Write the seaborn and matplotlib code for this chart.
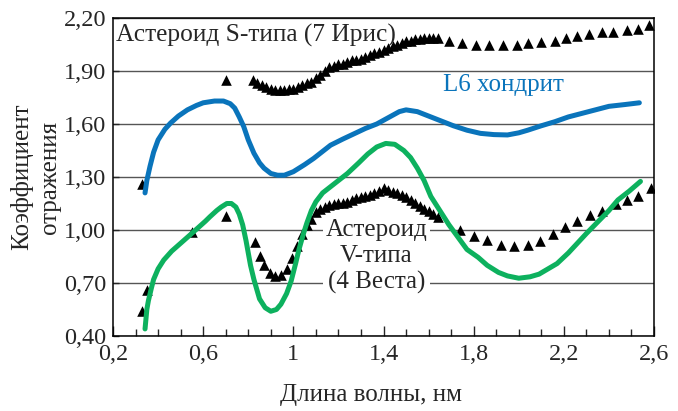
import numpy as np
import pandas as pd
import matplotlib
matplotlib.use("Agg")
import matplotlib.pyplot as plt
import seaborn as sns

# Астероид S-типа (7 Ирис) - треугольники
s_x = [0.33, 0.70, 0.82, 0.84, 0.86, 0.88, 0.90, 0.92, 0.94, 0.96, 0.98, 1.00, 1.02, 1.04,
       1.06, 1.08, 1.10, 1.12, 1.14, 1.16, 1.18, 1.20, 1.22, 1.24, 1.26, 1.28, 1.30, 1.32,
       1.34, 1.36, 1.38, 1.40, 1.42, 1.44, 1.46, 1.48, 1.50, 1.52, 1.54, 1.56, 1.58, 1.60,
       1.62, 1.64, 1.69, 1.75, 1.81, 1.87, 1.93, 1.99, 2.04, 2.10, 2.16, 2.21, 2.26, 2.31,
       2.37, 2.42, 2.48, 2.53, 2.58]
s_y = [1.26, 1.85, 1.85, 1.83, 1.82, 1.81, 1.80, 1.79, 1.79, 1.79, 1.80, 1.80, 1.81, 1.82,
       1.83, 1.84, 1.86, 1.88, 1.90, 1.92, 1.93, 1.94, 1.94, 1.95, 1.96, 1.96, 1.97, 1.98,
       1.99, 2.00, 2.01, 2.02, 2.03, 2.04, 2.05, 2.06, 2.07, 2.07, 2.08, 2.08, 2.085, 2.085,
       2.085, 2.085, 2.07, 2.06, 2.045, 2.045, 2.045, 2.045, 2.06, 2.065, 2.07, 2.085, 2.10, 2.11,
       2.12, 2.12, 2.13, 2.135, 2.16]

# Астероид V-типа (4 Веста) - треугольники
v_x = [0.33, 0.35, 0.55, 0.70, 0.83, 0.85, 0.87, 0.895, 0.92, 0.945, 0.97, 0.995, 1.015,
       1.04, 1.06, 1.08, 1.10, 1.12, 1.14, 1.16, 1.18, 1.20, 1.22, 1.24, 1.26, 1.28, 1.30,
       1.32, 1.34, 1.36, 1.38, 1.40, 1.42, 1.44, 1.46, 1.48, 1.50, 1.52, 1.54, 1.56, 1.58,
       1.60, 1.62, 1.64, 1.74, 1.80, 1.86, 1.92, 1.98, 2.04, 2.095, 2.15, 2.205, 2.26, 2.315,
       2.37, 2.43, 2.48, 2.53, 2.585]
v_y = [0.54, 0.66, 0.99, 1.08, 0.93, 0.85, 0.80, 0.755, 0.74, 0.745, 0.78, 0.84, 0.91,
       0.98, 1.03, 1.065, 1.10, 1.12, 1.13, 1.14, 1.145, 1.15, 1.155, 1.16, 1.17, 1.18, 1.185,
       1.19, 1.20, 1.21, 1.22, 1.235, 1.225, 1.215, 1.21, 1.20, 1.185, 1.17, 1.155, 1.135, 1.12,
       1.105, 1.09, 1.075, 1.00, 0.965, 0.945, 0.915, 0.91, 0.915, 0.94, 0.975, 1.015, 1.05, 1.085,
       1.11, 1.145, 1.17, 1.19, 1.24]

# L6 хондрит
l6_x = [0.342, 0.35, 0.364, 0.38, 0.40, 0.43, 0.455, 0.49, 0.53, 0.57, 0.60, 0.65, 0.69,
        0.72, 0.74, 0.76, 0.78, 0.80, 0.825, 0.85, 0.87, 0.90, 0.93, 0.96, 1.00, 1.05, 1.09,
        1.13, 1.165, 1.22, 1.27, 1.32, 1.37, 1.42, 1.47, 1.50, 1.55, 1.61, 1.66, 1.71, 1.77,
        1.83, 1.89, 1.95, 2.00, 2.04, 2.10, 2.16, 2.22, 2.28, 2.34, 2.40, 2.47, 2.535]
l6_y = [1.21, 1.28, 1.36, 1.44, 1.51, 1.57, 1.605, 1.645, 1.68, 1.705, 1.72, 1.73, 1.73,
        1.715, 1.69, 1.64, 1.585, 1.51, 1.435, 1.38, 1.35, 1.32, 1.31, 1.31, 1.33, 1.37, 1.405,
        1.445, 1.48, 1.515, 1.545, 1.575, 1.60, 1.635, 1.67, 1.68, 1.67, 1.64, 1.615, 1.59, 1.565,
        1.547, 1.54, 1.538, 1.55, 1.565, 1.59, 1.613, 1.64, 1.66, 1.68, 1.70, 1.71, 1.72]

# лабораторная кривая для V-типа
vl_x = [0.342, 0.35, 0.357, 0.37, 0.38, 0.40, 0.425, 0.46, 0.50, 0.54, 0.575, 0.61, 0.63,
        0.66, 0.68, 0.705, 0.725, 0.745, 0.76, 0.775, 0.79, 0.81, 0.825, 0.85, 0.875, 0.90,
        0.925, 0.945, 0.97, 0.99, 1.01, 1.025, 1.045, 1.06, 1.08, 1.10, 1.13, 1.18, 1.24,
        1.29, 1.33, 1.37, 1.41, 1.45, 1.49, 1.52, 1.55, 1.58, 1.61, 1.65, 1.69, 1.73, 1.77,
        1.82, 1.86, 1.91, 1.95, 2.00, 2.05, 2.09, 2.13, 2.17, 2.22, 2.26, 2.30, 2.35, 2.40,
        2.44, 2.49, 2.54]
vl_y = [0.44, 0.55, 0.60, 0.67, 0.72, 0.78, 0.83, 0.88, 0.925, 0.97, 1.01, 1.05, 1.075,
        1.11, 1.13, 1.15, 1.15, 1.13, 1.09, 1.03, 0.94, 0.80, 0.72, 0.61, 0.56, 0.54,
        0.55, 0.58, 0.64, 0.71, 0.81, 0.89, 0.98, 1.04, 1.11, 1.16, 1.21, 1.26, 1.32,
        1.38, 1.43, 1.47, 1.49, 1.485, 1.45, 1.41, 1.35, 1.28, 1.19, 1.11, 1.03, 0.96, 0.89,
        0.845, 0.80, 0.76, 0.74, 0.727, 0.735, 0.75, 0.78, 0.81, 0.87, 0.925, 0.98, 1.045, 1.11,
        1.17, 1.22, 1.275]

x_ticks = [0.2, 0.6, 1.0, 1.4, 1.8, 2.2, 2.6]
x_labels = ["0,2", "0,6", "1", "1,4", "1,8", "2,2", "2,6"]
y_ticks = [0.4, 0.7, 1.0, 1.3, 1.6, 1.9, 2.2]
y_labels = ["0,40", "0,70", "1,00", "1,30", "1,60", "1,90", "2,20"]

blue = "#0a74bb"
green = "#0db15e"

sns.set_style("ticks")
plt.rcParams["font.family"] = ["Liberation Serif", "DejaVu Serif"]

fig = plt.figure(figsize=(6.78, 4.11), dpi=100)
ax = fig.add_axes([0.1667, 0.1825, 0.7979, 0.7737])

ax.set_axisbelow(True)
ax.yaxis.grid(True, color="#555555", linewidth=1.0)

lines_l6 = pd.DataFrame({"x": l6_x, "y": l6_y})
lines_vl = pd.DataFrame({"x": vl_x, "y": vl_y})
sns.lineplot(data=lines_l6, x="x", y="y", ax=ax, color=blue, linewidth=3.6,
             sort=False, estimator=None, zorder=4, solid_capstyle="round")
sns.lineplot(data=lines_vl, x="x", y="y", ax=ax, color=green, linewidth=3.6,
             sort=False, estimator=None, zorder=4, solid_capstyle="round")

tri_s = pd.DataFrame({"x": s_x, "y": s_y})
tri_v = pd.DataFrame({"x": v_x, "y": v_y})
for d in (tri_s, tri_v):
    sns.scatterplot(data=d, x="x", y="y", ax=ax, marker="^", s=58, color="black",
                    linewidth=0, zorder=3)

ax.text(0.214, 2.104, "Астероид S-типа (7 Ирис)", fontsize=18.3, ha="left", va="center",
        zorder=2)
ax.text(1.933, 1.821, "L6 хондрит", fontsize=18, color=blue, ha="center", va="center")
ax.text(1.369, 0.85, "Астероид\nV-типа\n(4 Веста)", fontsize=18, ha="center", va="center",
        linespacing=1.25, zorder=2,
        bbox=dict(facecolor="white", edgecolor="none", pad=2))

ax.set_xlim(0.2, 2.6)
ax.set_ylim(0.4, 2.2)
ax.set_xticks(x_ticks)
ax.set_xticklabels(x_labels)
ax.set_xticks(np.arange(0.3, 2.6, 0.1), minor=True)
ax.set_yticks(y_ticks)
ax.set_yticklabels(y_labels)
ax.tick_params(axis="x", which="major", direction="in", length=7, width=1, labelsize=17.5, pad=6)
ax.tick_params(axis="x", which="minor", direction="in", length=5, width=1)
ax.tick_params(axis="y", direction="in", length=4, width=1, labelsize=17.5, pad=5)

for sp in ax.spines.values():
    sp.set_visible(True)
    sp.set_linewidth(1.1)
    sp.set_color("black")

ax.set_xlabel("Длина волны, нм", fontsize=18)
ax.xaxis.set_label_coords(0.477, -0.15)
ax.set_ylabel("Коэффициент\nотражения", fontsize=18, labelpad=2, linespacing=1.3)

fig.savefig("out.png", dpi=100)
